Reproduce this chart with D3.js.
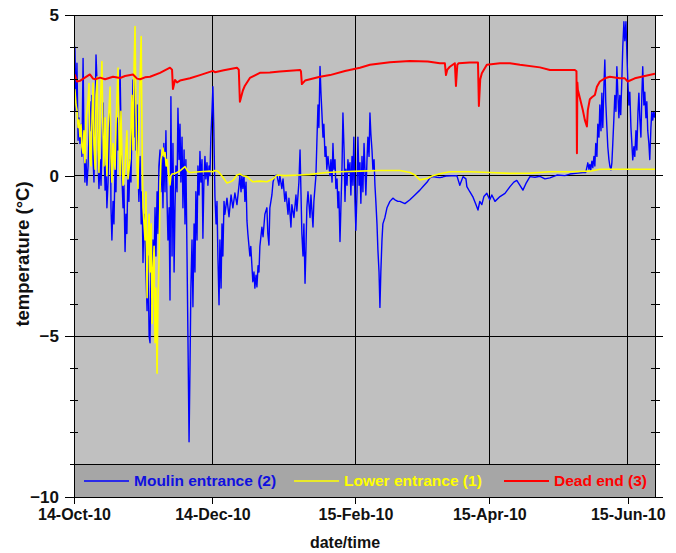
<!DOCTYPE html>
<html><head><meta charset="utf-8">
<script src="https://cdn.jsdelivr.net/npm/d3@7/dist/d3.min.js"></script>
<style>
html,body{margin:0;padding:0;background:#fff;}
svg{display:block;font-family:"Liberation Sans",Arial,sans-serif;font-weight:bold;}
</style></head>
<body>
<svg id="chart" width="676" height="553"></svg>
<script>
// ---- data (day offset from 14-Oct-2010, temperature °C) ----
const startDay = "2010-10-14";
const endDayOffset = 256;
const tickDates = ["2010-10-14","2010-12-14","2011-02-15","2011-04-15","2011-06-15"];
const tickLabels = ["14-Oct-10","14-Dec-10","15-Feb-10","15-Apr-10","15-Jun-10"];
const yTicks = [5,0,-5,-10];
const yMinor = [4,3,2,1,-1,-2,-3,-4,-6,-7,-8,-9];
const seriesNames = ["Moulin entrance (2)","Lower entrance (1)","Dead end (3)"];
const seriesColors = ["#0000ff","#ffff00","#ff0000"];

const moulin = [[0,3.9],[0.4,4.0],[0.9,2.0],[1.3,3.5],[1.8,1.1],[2.2,1.8],[2.6,1.0],[3.1,1.6],[3.5,0.6],[4.0,3.65],[4.4,1.0],[4.8,-0.2],[5.3,0.5],[5.7,-0.3],[6.2,0.3],[7.0,2.3],[7.5,1.4],[7.9,2.5],[8.4,0.5],[8.8,-0.2],[9.3,2.0],[9.7,3.76],[10.1,3.0],[10.6,0.4],[11.0,-0.4],[11.5,0.5],[11.9,-0.3],[12.3,0.8],[12.8,2.26],[13.2,1.0],[13.7,-0.45],[14.1,0.3],[14.5,-1.0],[15.0,-0.2],[15.4,1.5],[15.9,2.46],[16.3,-1.0],[16.7,-2.0],[17.2,-0.8],[17.6,-1.5],[18.1,0.3],[18.5,-0.5],[19.0,1.8],[19.4,0.8],[20.3,3.29],[20.7,1.5],[21.1,0.0],[21.6,-1.0],[22.0,-0.3],[22.5,-2.36],[22.9,-1.2],[23.3,-1.8],[23.8,0.2],[24.2,-0.8],[24.7,0.5],[25.1,-0.2],[25.5,1.5],[26.0,2.98],[26.4,1.2],[26.9,3.6],[27.3,0.8],[27.8,2.2],[28.2,0.2],[28.6,-0.8],[29.1,0.6],[29.6,-1.5],[30.0,-0.5],[30.4,-2.7],[30.8,-1.2],[31.3,-2.0],[31.7,-3.0],[32.2,-4.2],[32.6,-2.5],[33.1,-5.0],[33.5,-5.2],[33.9,-3.0],[34.4,-4.0],[34.8,-2.0],[35.2,-3.2],[35.7,-1.0],[36.1,-2.5],[36.6,-0.5],[37.0,-1.8],[37.4,0.3],[37.9,0.8],[38.3,-0.5],[38.8,0.6],[39.2,-1.0],[39.6,1.0],[40.1,-0.5],[40.5,1.4],[41.0,-0.8],[41.4,-2.0],[41.9,-1.0],[42.3,-3.87],[42.7,2.46],[43.2,-2.5],[43.6,1.0],[44.1,-3.0],[44.5,-1.0],[44.9,0.3],[45.4,-0.5],[45.8,2.1],[46.3,0.5],[46.7,1.6],[47.1,-0.2],[47.6,1.2],[48.0,-1.0],[48.5,0.8],[48.9,-1.5],[49.3,0.5],[49.8,-2.5],[50.2,-5.0],[50.7,-8.28],[51.1,-6.0],[51.5,-3.5],[52.0,-2.0],[52.4,-4.08],[52.9,-1.5],[53.3,-3.0],[53.7,-0.5],[54.2,-2.0],[54.6,0.3],[55.1,-0.6],[55.5,0.75],[55.9,-0.2],[56.4,0.5],[56.8,-1.95],[57.2,-0.3],[57.7,0.6],[58.1,-0.1],[58.6,0.4],[59.0,-0.3],[59.5,0.3],[59.9,0.0],[60.3,1.2],[60.8,2.0],[61.2,2.77],[61.6,1.5],[62.1,-0.65],[62.6,-1.5],[63.0,-0.8],[63.4,-2.5],[63.9,-4.02],[64.3,-2.0],[64.8,-3.5],[65.2,-1.5],[65.6,-2.5],[66.1,-0.8],[66.5,-1.2],[67.4,-0.7],[68.3,-1.28],[69.2,-0.6],[70.0,-1.0],[70.9,-0.54],[71.8,-0.9],[72.7,-0.3],[73.1,0.0],[73.6,-0.5],[74.0,0.02],[74.4,-0.4],[74.9,0.0],[75.3,-0.8],[75.8,-0.2],[76.2,-1.4],[76.6,-1.8],[77.5,-2.5],[77.9,-2.2],[78.8,-3.3],[79.3,-3.0],[79.7,-3.5],[80.2,-3.1],[80.6,-3.46],[81.1,-2.8],[81.5,-3.0],[81.9,-2.2],[82.8,-1.6],[83.3,-1.9],[84.1,-1.2],[85.0,-1.0],[85.4,-1.8],[85.9,-2.16],[86.3,-1.0],[87.2,-0.6],[87.7,-0.2],[88.5,0.0],[89.4,0.02],[90.3,-0.3],[90.7,0.0],[91.6,-0.4],[92.1,-0.1],[92.9,-0.8],[93.4,-0.5],[94.3,-1.2],[94.7,-0.7],[95.6,-1.6],[96.0,-0.9],[96.9,-1.3],[97.8,-0.6],[98.2,-1.1],[99.1,-0.2],[99.6,0.8],[100.0,-0.5],[100.4,-1.8],[100.9,-2.5],[101.3,-1.5],[101.8,-3.35],[102.2,-2.3],[102.6,-1.0],[103.1,-0.5],[104.0,-1.3],[104.4,-0.6],[105.3,-1.6],[105.7,-0.8],[106.6,0.0],[107.0,1.0],[107.5,2.2],[107.9,1.5],[108.4,3.4],[108.8,2.6],[109.2,2.0],[109.7,1.2],[110.1,1.6],[110.6,0.6],[111.0,0.9],[111.4,0.2],[111.9,0.6],[112.8,0.0],[113.2,0.5],[113.7,-0.2],[114.1,1.0],[114.5,0.2],[115.0,0.5],[115.4,-0.4],[115.9,-0.1],[116.3,-1.0],[116.7,-0.5],[117.2,-2.05],[117.6,-1.0],[118.1,0.3],[118.5,1.95],[119.0,0.8],[119.4,-0.8],[119.8,0.2],[120.3,-0.3],[120.7,0.5],[121.1,0.1],[121.6,0.4],[122.0,-0.6],[122.5,0.6],[122.9,-0.3],[123.3,1.2],[123.8,-0.8],[124.2,-1.7],[124.7,-0.5],[125.1,1.2],[125.6,-0.3],[126.0,0.4],[126.4,-0.86],[126.9,0.6],[127.3,-0.5],[127.8,1.0],[128.2,0.2],[128.6,-0.6],[129.1,0.5],[129.5,1.2],[130.0,0.6],[130.4,1.95],[130.8,1.3],[131.3,0.8],[131.7,0.2],[132.2,0.5],[132.6,-0.3],[133.0,-0.8],[133.5,-1.5],[133.9,-2.3],[134.4,-3.0],[134.8,-4.1],[135.2,-3.0],[135.7,-2.0],[136.1,-1.5],[137.0,-1.3],[137.9,-1.0],[139.2,-0.8],[140.5,-0.7],[141.4,-0.75],[142.7,-0.8],[143.6,-0.8],[145.8,-0.87],[148.0,-0.75],[150.2,-0.6],[152.4,-0.45],[153.8,-0.34],[155.6,-0.2],[156.8,-0.07],[158.1,-0.03],[159.9,-0.05],[161.2,-0.06],[162.5,-0.04],[163.9,-0.01],[168.7,0.0],[170.0,-0.3],[171.4,-0.03],[172.7,-0.1],[173.1,-0.34],[174.4,-0.5],[175.7,-0.65],[177.1,-0.9],[178.0,-1.07],[178.8,-0.8],[179.7,-0.9],[180.6,-0.65],[181.9,-0.55],[183.2,-0.75],[184.1,-0.6],[185.5,-0.8],[187.7,-0.65],[189.9,-0.55],[192.1,-0.34],[193.8,-0.2],[195.1,-0.15],[196.5,-0.3],[197.8,-0.45],[199.1,-0.25],[200.9,-0.03],[203.1,-0.05],[205.3,-0.02],[207.5,-0.1],[209.7,-0.07],[212.8,0.02],[216.3,0.0],[218.5,0.05],[222.0,0.08],[224.2,0.1],[225.5,0.1],[226.4,0.4],[226.9,0.2],[227.3,0.35],[227.7,0.18],[228.2,0.45],[228.6,0.25],[229.1,0.6],[229.5,0.3],[229.9,1.0],[230.4,0.6],[230.8,1.6],[231.3,1.2],[231.7,2.2],[232.2,1.4],[232.6,2.57],[233.0,1.5],[233.5,2.8],[233.9,3.6],[234.3,2.3],[234.8,1.5],[235.2,0.9],[235.7,0.5],[236.1,0.3],[236.6,0.18],[237.0,0.4],[237.4,1.0],[237.9,1.8],[238.3,2.5],[238.8,2.0],[239.2,3.39],[239.6,2.6],[240.1,1.8],[240.5,2.5],[240.9,1.9],[241.4,3.0],[241.8,4.0],[242.3,4.79],[242.7,4.2],[243.2,4.79],[243.6,3.8],[244.0,3.0],[244.5,2.2],[244.9,2.6],[245.4,1.5],[245.8,1.0],[246.2,0.49],[246.7,0.9],[247.1,0.6],[247.6,1.4],[248.0,0.8],[248.5,2.0],[248.9,2.57],[249.3,1.8],[249.8,1.2],[250.2,2.5],[250.6,3.39],[251.1,2.2],[251.5,2.6],[252.0,1.8],[252.4,2.3],[252.8,1.4],[253.3,1.0],[253.7,0.5],[254.2,1.5],[254.6,2.0],[255.0,1.73],[255.5,2.0],[256.0,1.8]];

const lower = [[0,2.7],[0.4,2.67],[0.9,2.2],[1.3,2.04],[1.8,1.5],[2.2,1.73],[2.6,1.21],[3.1,1.6],[3.5,0.9],[4.0,0.7],[4.4,1.4],[4.8,0.4],[5.3,1.8],[6.2,2.36],[6.6,2.87],[7.0,0.59],[7.5,0.3],[8.0,2.0],[8.4,2.88],[8.8,1.0],[9.3,0.2],[9.7,2.5],[10.2,3.07],[10.6,0.8],[11.0,0.1],[11.5,2.0],[12.3,3.55],[12.8,1.2],[13.2,0.3],[13.7,1.8],[14.5,0.0],[15.0,1.5],[15.9,2.76],[16.3,0.6],[16.7,-0.2],[17.2,1.0],[18.1,0.2],[18.5,1.6],[19.4,3.35],[19.9,1.0],[20.3,0.0],[20.7,2.0],[21.2,0.5],[21.6,-0.3],[22.5,0.3],[23.3,1.4],[23.8,-0.1],[24.7,0.5],[25.5,2.5],[26.0,0.8],[26.5,3.5],[26.9,4.64],[27.3,2.0],[27.8,0.2],[28.2,-0.4],[28.6,1.5],[29.1,3.0],[29.6,4.33],[30.0,1.0],[30.4,-1.0],[31.3,-2.0],[31.7,-0.5],[32.2,-3.8],[32.6,-2.0],[33.1,-1.2],[33.5,-3.0],[34.0,-1.5],[34.4,-4.6],[34.8,-3.0],[35.3,-2.2],[35.7,-5.2],[36.1,-3.5],[36.6,-6.15],[37.0,-4.0],[37.5,-2.5],[37.9,-0.5],[38.3,0.5],[38.8,0.7],[39.2,0.86],[39.7,0.6],[40.1,0.72],[40.6,0.3],[41.0,0.5],[41.5,0.2],[41.9,-0.1],[42.3,-0.29],[42.7,0.0],[43.2,0.05],[44.5,0.07],[46.7,0.15],[48.9,0.28],[50.0,0.15],[51.1,0.1],[55.5,0.12],[59.9,0.14],[61.2,0.12],[62.1,0.16],[63.4,0.14],[64.3,0.07],[65.6,-0.05],[67.4,-0.23],[68.7,-0.2],[70.0,-0.15],[71.8,0.02],[73.1,0.05],[74.4,0.0],[76.2,-0.03],[78.8,-0.19],[81.9,-0.17],[85.0,-0.19],[87.7,-0.1],[89.4,0.02],[92.9,0.0],[99.6,0.02],[104.0,0.04],[111.4,0.1],[117.2,0.12],[126.0,0.14],[134.8,0.16],[143.6,0.16],[148.0,0.1],[150.2,0.02],[152.4,-0.13],[155.9,-0.08],[158.1,0.0],[161.2,0.06],[165.6,0.12],[174.4,0.12],[183.2,0.1],[192.1,0.07],[200.9,0.08],[209.7,0.12],[218.5,0.12],[227.3,0.14],[231.7,0.2],[244.0,0.2],[256.0,0.2]];

const deadEnd = [[0,3.1],[0.4,3.13],[1.3,2.93],[2.6,2.95],[4.8,3.05],[7.0,3.15],[8.4,3.02],[9.3,3.0],[11.5,3.05],[13.7,3.0],[17.2,3.08],[20.3,3.04],[22.5,3.1],[26.0,3.15],[27.8,3.02],[29.1,3.0],[31.3,3.06],[33.5,3.08],[37.9,3.2],[42.3,3.36],[43.2,3.3],[43.6,2.7],[44.5,2.98],[45.4,2.9],[46.7,2.96],[51.1,3.03],[55.5,3.13],[61.2,3.26],[62.1,3.22],[66.0,3.28],[71.8,3.36],[72.6,3.3],[73.1,2.3],[74.4,2.65],[75.3,2.8],[77.5,3.04],[81.9,3.2],[86.3,3.21],[90.7,3.24],[99.6,3.29],[100.0,3.25],[100.4,2.85],[101.8,2.96],[108.4,3.08],[112.8,3.13],[119.4,3.26],[126.0,3.36],[130.4,3.45],[139.2,3.53],[148.0,3.57],[155.9,3.55],[161.2,3.5],[163.4,3.5],[163.9,3.13],[164.5,3.3],[165.6,3.39],[167.8,3.5],[168.3,2.79],[168.9,3.45],[169.5,3.5],[174.4,3.52],[178.0,3.52],[178.4,2.17],[179.0,3.0],[179.7,3.19],[181.9,3.45],[187.7,3.5],[192.1,3.5],[196.5,3.45],[205.3,3.37],[209.7,3.29],[220.7,3.29],[221.4,3.25],[221.6,0.7],[221.8,2.9],[222.0,2.67],[222.9,2.42],[224.2,2.04],[225.1,1.73],[226.0,1.53],[226.4,2.04],[227.3,2.38],[228.2,2.44],[229.5,2.51],[230.4,2.77],[231.7,2.93],[233.9,3.03],[236.1,3.08],[240.5,3.03],[242.7,3.03],[244.0,2.93],[247.1,3.03],[251.5,3.1],[256.0,3.17]];

// ---- drawing ----
const svg = d3.select("#chart");
const L = 74, R = 655, T = 15, B = 497;
const parse = d3.utcParse("%Y-%m-%d");
const t0 = parse(startDay);
const toDate = d => new Date(t0.getTime() + d * 864e5);
const x = d3.scaleUtc().domain([t0, toDate(endDayOffset)]).range([L, R]);
const y = d3.scaleLinear().domain([-10, 5]).range([B, T]);

// plot background
svg.append("rect").attr("x", L).attr("y", T).attr("width", R - L).attr("height", B - T).attr("fill", "#c0c0c0");

// gridlines
const legendTop = y(-9);
svg.append("g").selectAll("line").data(tickDates.slice(1).map(parse)).join("line")
  .attr("x1", d => x(d)).attr("x2", d => x(d)).attr("y1", T).attr("y2", legendTop)
  .attr("stroke", "#000").attr("stroke-width", 1).attr("shape-rendering", "crispEdges");
svg.append("g").selectAll("line").data([0, -5]).join("line")
  .attr("x1", L).attr("x2", R + 8).attr("y1", d => y(d)).attr("y2", d => y(d))
  .attr("stroke", "#000").attr("stroke-width", 1).attr("shape-rendering", "crispEdges");

// series
const line = d3.line().x(d => x(toDate(d[0]))).y(d => y(d[1]));
const clip = svg.append("clipPath").attr("id", "clip").append("rect")
  .attr("x", L).attr("y", T).attr("width", R - L).attr("height", B - T);
const series = [moulin, lower, deadEnd];
const widths = [1.4, 1.6, 2];
const gS = svg.append("g").attr("clip-path", "url(#clip)");
series.forEach((s, i) => {
  gS.append("path").datum(s).attr("d", line).attr("fill", "none")
    .attr("stroke", seriesColors[i]).attr("stroke-width", widths[i]).attr("stroke-linejoin", "round");
});

// legend box
svg.append("rect").attr("x", L).attr("y", legendTop).attr("width", R - L).attr("height", B - legendTop)
  .attr("fill", "#a6a6a6").attr("stroke", "#000").attr("stroke-width", 1).attr("shape-rendering", "crispEdges");
const legX = [84, 294, 504];
const legY = (legendTop + B) / 2;
seriesNames.forEach((n, i) => {
  svg.append("line").attr("x1", legX[i]).attr("x2", legX[i] + 45).attr("y1", legY).attr("y2", legY)
    .attr("stroke", seriesColors[i]).attr("stroke-width", i === 2 ? 2 : 1.6);
  svg.append("text").attr("x", legX[i] + 50).attr("y", legY).attr("dy", "0.35em")
    .attr("fill", i === 0 ? "#1010e0" : seriesColors[i]).attr("font-size", 15.5).text(n);
});

// plot border
svg.append("rect").attr("x", L).attr("y", T).attr("width", R - L).attr("height", B - T)
  .attr("fill", "none").attr("stroke", "#000").attr("stroke-width", 1).attr("shape-rendering", "crispEdges");
svg.append("line").attr("x1", L).attr("x2", R + 8).attr("y1", T).attr("y2", T).attr("stroke", "#000").attr("shape-rendering", "crispEdges");
svg.append("line").attr("x1", L).attr("x2", R + 8).attr("y1", B).attr("y2", B).attr("stroke", "#000").attr("shape-rendering", "crispEdges");

// axes
const xAxis = d3.axisBottom(x).tickValues(tickDates.map(parse))
  .tickFormat((d, i) => tickLabels[i]).tickSize(7).tickPadding(5);
const gx = svg.append("g").attr("transform", `translate(0,${B})`).call(xAxis);
gx.select(".domain").remove();
gx.selectAll("line").attr("stroke", "#000").attr("shape-rendering", "crispEdges");
gx.selectAll("text").attr("font-size", 16).attr("font-family", "Liberation Sans, Arial, sans-serif")
  .attr("font-weight", "bold").attr("fill", "#111");

const yAxis = d3.axisLeft(y).tickValues(yTicks).tickFormat(d3.format("d")).tickSize(9).tickPadding(6);
const gy = svg.append("g").attr("transform", `translate(${L},0)`).call(yAxis);
gy.select(".domain").remove();
gy.selectAll("line").attr("stroke", "#000").attr("shape-rendering", "crispEdges");
gy.selectAll("text").attr("font-size", 17).attr("font-family", "Liberation Sans, Arial, sans-serif")
  .attr("font-weight", "bold").attr("fill", "#111");

// minor ticks (cross both vertical axes)
svg.append("g").selectAll("line").data(yMinor).join("line")
  .attr("x1", L - 4).attr("x2", L + 4).attr("y1", d => y(d)).attr("y2", d => y(d))
  .attr("stroke", "#000").attr("shape-rendering", "crispEdges");
svg.append("g").selectAll("line").data(yMinor).join("line")
  .attr("x1", R - 4).attr("x2", R + 5).attr("y1", d => y(d)).attr("y2", d => y(d))
  .attr("stroke", "#000").attr("shape-rendering", "crispEdges");

// titles
svg.append("text").attr("x", 345).attr("y", 548).attr("text-anchor", "middle")
  .attr("font-size", 16).attr("fill", "#111").text("date/time");
svg.append("text").attr("transform", "translate(29,254) rotate(-90)").attr("text-anchor", "middle")
  .attr("font-size", 18.5).attr("fill", "#111").text("temperature (°C)");
</script>
</body></html>
